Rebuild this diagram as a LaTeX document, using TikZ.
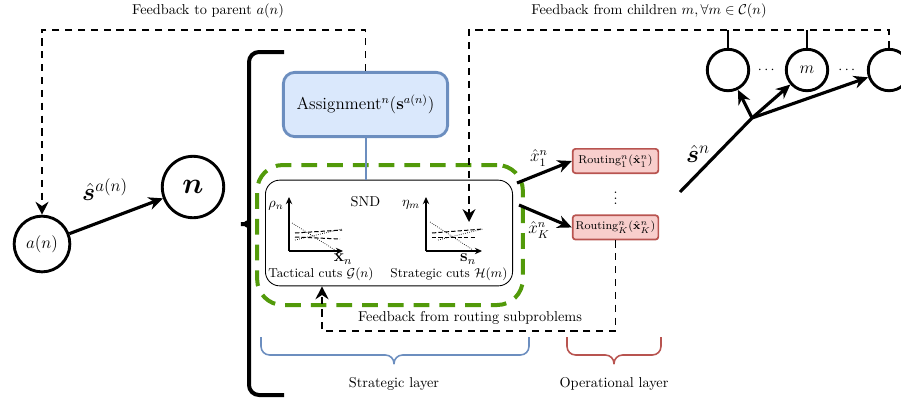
\documentclass[tikz,border=0pt]{standalone}
\usepackage{amsmath,amssymb,bm}
\usetikzlibrary{arrows.meta,positioning}

\definecolor{asgfill}{HTML}{DAE8FC}
\definecolor{asgline}{HTML}{6C8EBF}
\definecolor{rtfill}{HTML}{F8CECC}
\definecolor{rtline}{HTML}{B85450}
\definecolor{sndgreen}{RGB}{82,154,10}

\tikzset{
  agent/.style={circle,draw,line width=2pt,inner sep=0pt},
  asgbox/.style={draw=asgline,fill=asgfill,line width=2pt,rounded corners=8pt,
    minimum width=115pt,minimum height=45pt,font=\large},
  rtbox/.style={draw=rtline,fill=rtfill,line width=1.2pt,rounded corners=2pt,
    minimum width=60pt,minimum height=17pt,inner sep=1pt,font=\footnotesize},
  sndbox/.style={draw,line width=0.6pt,rounded corners=10pt,
    minimum width=173pt,minimum height=74pt},
  grpbox/.style={draw=sndgreen,line width=2.8pt,dash pattern=on 11pt off 7pt,
    rounded corners=18pt,minimum width=186pt,minimum height=98pt},
  fbline/.style={line width=1.3pt,dash pattern=on 5pt off 4pt},
  bigarrow/.style={line width=2.2pt,-{Stealth[length=10pt,width=9pt]}},
  axisarrow/.style={line width=0.8pt,-{Stealth[length=5pt,width=4.5pt]}},
  cutdot/.style={line width=0.5pt,densely dotted},
  cutdash/.style={line width=0.7pt,dash pattern=on 3pt off 1.5pt},
  layerbrace/.style={line width=1.1pt,rounded corners=6pt}
}

\begin{document}
\begin{tikzpicture}[x=0.7pt,y=-0.7pt,node distance=2cm,on grid,
    >={Stealth[length=9pt,width=9pt]}]
\useasboundingbox (0,0) rectangle (901,402);

% parent and current node
\node[agent,minimum size=39pt] (an) at (42,244) {\large$a(n)$};
\node[agent,minimum size=43pt] (n) at (193,187) {\huge$\bm{n}$};
\draw[bigarrow] (an) -- (n);
\node at (105,190) {\LARGE$\hat{\bm{s}}^{a(n)}$};

% big brace
\draw[line width=2.8pt,rounded corners=7pt] (284,52) -- (249,52) -- (249,212)
  .. controls (249,221) and (245,224) .. (235,224)
  .. controls (245,224) and (249,227) .. (249,236) -- (249,395) -- (284,395);

% strategic layer
\node[asgbox] (asg) at (365.5,104.5) {Assignment$^n(\mathbf{s}^{a(n)})$};
\node[grpbox] (grp) at (390,235) {};
\node[sndbox] (snd) at (389,233) {};
\draw[asgline,line width=1.4pt] (asg.south) -- (asg.south |- snd.north);
\node[below=8pt of asg.south |- snd.north] {SND};

% tactical cuts
\draw[axisarrow] (289,251) -- (343,251);
\draw[axisarrow] (289,251) -- (289,197);
\draw[cutdot] (292,223) -- (335,250);
\draw[cutdot] (295,240) -- (342,229);
\draw[cutdash] (295,233) -- (342,230);
\draw[cutdash] (295,237) -- (340,239);
\node at (276,206) {$\rho_n$};
\node at (343,259) {\large$\mathbf{x}_n$};
\node[font=\small] at (321,274) {Tactical cuts $\mathcal{G}(n)$};

% strategic cuts
\draw[axisarrow] (426,251) -- (482,251);
\draw[axisarrow] (426,251) -- (426,197);
\draw[cutdot] (430,222) -- (473,250);
\draw[cutdot] (438,240) -- (483,229);
\draw[cutdash] (432,233) -- (483,229);
\draw[cutdash] (432,237) -- (477,237);
\node at (411,205) {$\eta_m$};
\node at (468,259) {\large$\mathbf{s}_n$};
\node[font=\small] at (449,274) {Strategic cuts $\mathcal{H}(m)$};

% operational layer
\node[rtbox] (r1) at (615.5,161) {Routing$^n_1(\hat{\mathbf{x}}^n_1)$};
\node[rtbox,below=46.5pt of r1] (rK) {Routing$^n_K(\hat{\mathbf{x}}^n_K)$};
\path (r1) -- (rK) node[midway] {$\vdots$};
\coordinate (xo1) at (517,183);
\coordinate (xoK) at (519,205);
\draw[bigarrow] (xo1) -- (r1.west);
\draw[bigarrow] (xoK) -- (rK.west);
\node at (539,158) {\large$\hat{x}^n_1$};
\node at (539,230) {\large$\hat{x}^n_K$};

% children
\node[agent,minimum size=29pt] (c1) at (728,70) {};
\node[agent,minimum size=29pt,right=55.3pt of c1] (cm) {\large$m$};
\node[agent,minimum size=29pt,right=57.4pt of cm] (c3) {};
\path (c1) -- (cm) node[midway] {$\cdots$};
\path (cm) -- (c3) node[midway] {$\cdots$};
\coordinate (sfrom) at (680,192);
\coordinate (br) at (752,118);
\draw[line width=2.2pt] (sfrom) -- (br);
\node at (698,154) {\LARGE$\hat{\bm{s}}^n$};
\draw[bigarrow] (br) -- (c1);
\draw[bigarrow] (br) -- (cm);
\draw[bigarrow] (br) -- (c3);

% feedback loops
\coordinate (fbtl) at (42,30);
\coordinate (fbtr) at (469,30);
\coordinate (fbin) at (469,222);
\coordinate (fbbot) at (322,331);
\draw[fbline,->] (asg.north) |- (fbtl) -- (an.north);
\draw[fbline,->] (c3.north) |- (fbtr) -- (fbin);
\draw[line width=1.3pt] (c1.north) -- (c1.north |- fbtr);
\draw[line width=1.3pt] (cm.north) -- (cm.north |- fbtr);
\draw[fbline,->] (rK.south) |- (fbbot) -- (fbbot |- snd.south);
\node at (208,11) {Feedback to parent $a(n)$};
\node at (649,11) {Feedback from children $m, \forall m \in \mathcal{C}(n)$};
\node at (470,318) {Feedback from routing subproblems};

% layer braces
\draw[layerbrace,asgline] (261,337) -- (261,355) -- (394,355) -- (394,364);
\draw[layerbrace,asgline] (529,337) -- (529,355) -- (394,355) -- (394,364);
\draw[layerbrace,rtline] (567,337) -- (567,355) -- (614,355) -- (614,364);
\draw[layerbrace,rtline] (661,337) -- (661,355) -- (614,355) -- (614,364);
\node at (394,384) {Strategic layer};
\node at (614,384) {Operational layer};
\end{tikzpicture}
\end{document}
